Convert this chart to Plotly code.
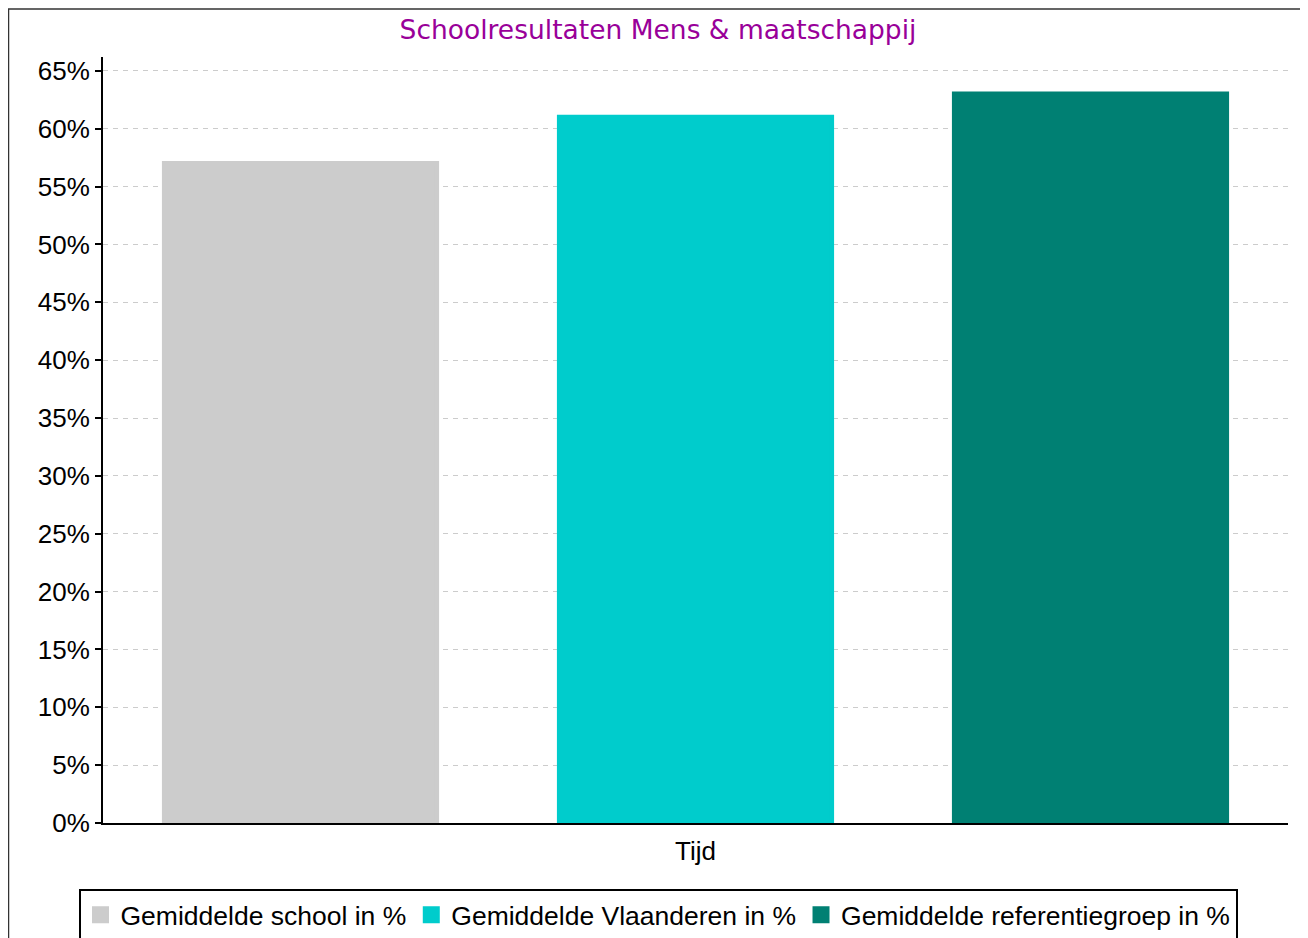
import plotly.graph_objects as go

categories = ["Tijd"]
series_names = ["Gemiddelde school in %", "Gemiddelde Vlaanderen in %", "Gemiddelde referentiegroep in %"]
series_values = [[57], [61], [63]]
series_colors = ["#CCCCCC", "#00CCCC", "#008073"]
y_ticks = list(range(0, 70, 5))

W, H = 1308, 938
L, R, T, B = 95, 28, 49, 123
pw, ph = W - L - R, H - T - B

def px_x(x):
    return (x - L) / pw

def px_y(y):
    return (H - B - y) / ph

fig = go.Figure()
for name, vals, col in zip(series_names, series_values, series_colors):
    fig.add_trace(go.Bar(
        x=categories, y=vals, name=name,
        marker=dict(color=col, line=dict(color=col, width=5)),
    ))

fig.update_layout(
    width=W, height=H,
    margin=dict(l=L, r=R, t=T, b=B, autoexpand=False),
    paper_bgcolor="white", plot_bgcolor="white",
    barmode="group", bargap=0.0, bargroupgap=0.311,
    font=dict(family="Liberation Sans, Arial, sans-serif", size=26, color="black"),
    title=dict(
        text="Schoolresultaten Mens &amp; maatschappij",
        font=dict(family="DejaVu Sans, Verdana, sans-serif", size=26.5, color="#990099"),
        x=650 / W, xanchor="center", xref="container",
        y=1 - 22 / H, yanchor="middle", yref="container",
    ),
    xaxis=dict(
        showline=True, linecolor="black", linewidth=2,
        ticks="", showgrid=False, zeroline=False,
        tickfont=dict(size=26), ticklabelstandoff=4,
    ),
    yaxis=dict(
        range=[0, 66.2], tickvals=y_ticks, ticktext=[f"{v}%" for v in y_ticks],
        showline=True, linecolor="black", linewidth=2,
        ticks="outside", ticklen=6, tickwidth=2, tickcolor="black",
        showgrid=True, gridcolor="#CCCCCC", gridwidth=1, griddash="5px,5px",
        zeroline=False, tickfont=dict(size=26),
    ),
    legend=dict(
        orientation="h", x=px_x(650), xanchor="center",
        y=px_y(881), yanchor="top",
        bordercolor="black", borderwidth=2,
        font=dict(size=26.5), bgcolor="white",
    ),
    showlegend=True,
)

fig.add_shape(
    type="rect", xref="paper", yref="paper",
    x0=px_x(0.5), x1=px_x(1330), y0=px_y(960), y1=px_y(1),
    line=dict(color="#333333", width=1.5), layer="below",
)

fig.write_html("out.html")
